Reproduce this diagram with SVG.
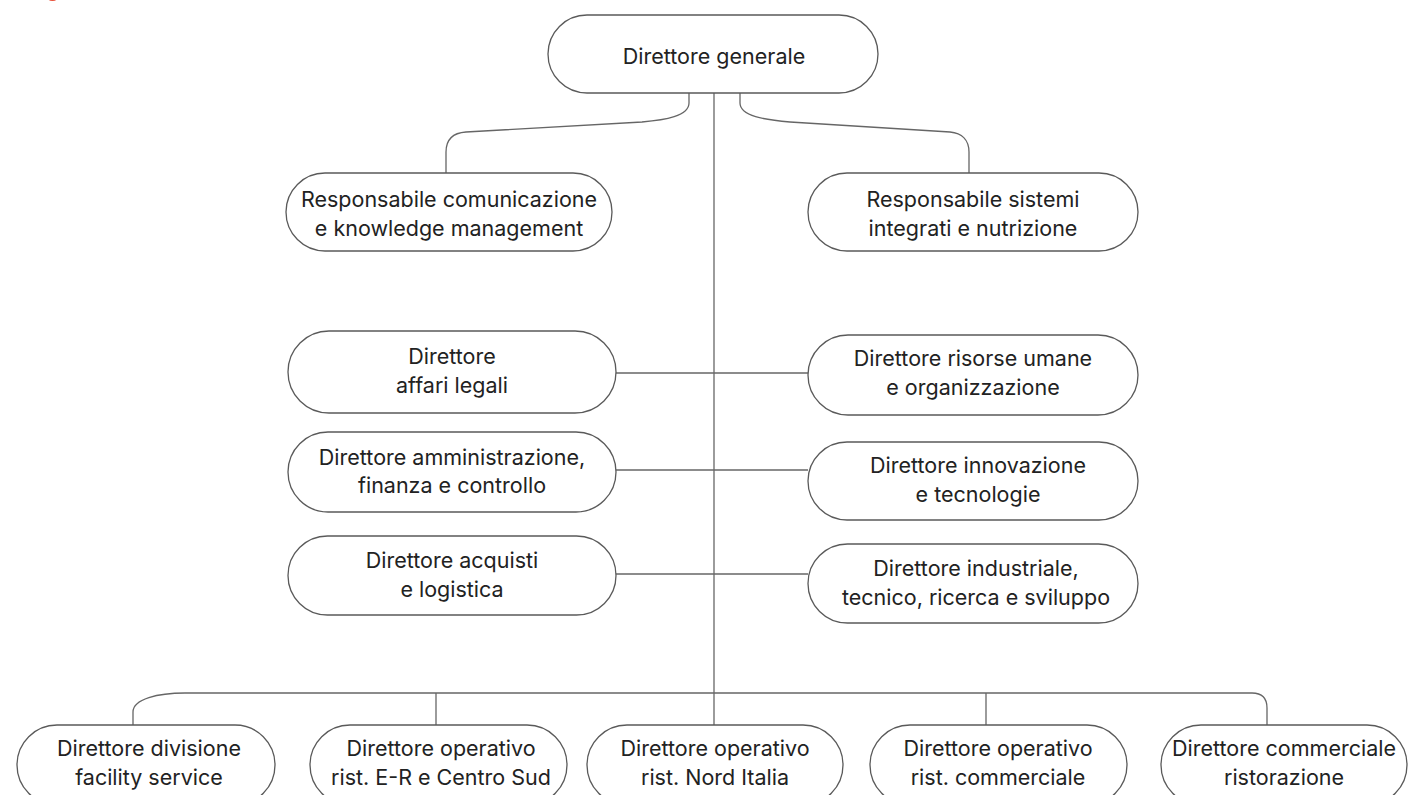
<svg xmlns="http://www.w3.org/2000/svg" width="1409" height="795" viewBox="0 0 1409 795">
<style>
.n{fill:#fff;stroke:#5a5a5a;stroke-width:1.3}
.c{fill:none;stroke:#666;stroke-width:1.3}
text{font-family:Inter,"Liberation Sans",sans-serif;font-size:21.5px;fill:#222;text-anchor:middle}
</style>
<rect width="1409" height="795" fill="#fff"/>
<ellipse cx="52.5" cy="-1" rx="4" ry="2" fill="#e8503a"/>
<g id="connectors">
<path class="c" d="M714,93 V725"/>
<path class="c" d="M689,93 V103 C689,116 665,120 642,122 L466,132 C452,133 446,140 446,152 V173"/>
<path class="c" d="M740,93 V103 C740,116 765,120 790,122 L950,132 C962,133 969,140 969,152 V173"/>
<path class="c" d="M616,373 H808"/>
<path class="c" d="M616,470 H808"/>
<path class="c" d="M616,574 H808"/>
<path class="c" d="M133,725 V712 C133,699 158,693 185,693 H1252 Q1267,693 1267,708 V725"/>
<path class="c" d="M436,693 V725"/>
<path class="c" d="M986,693 V725"/>
</g>
<g id="n-dg"><rect class="n" x="548" y="15" width="330" height="78" rx="39"/><text x="714" y="64">Direttore generale</text></g>
<g id="n-comm"><rect class="n" x="286" y="173" width="326" height="78" rx="39"/><text x="449" y="207">Responsabile comunicazione</text><text x="449" y="236">e knowledge management</text></g>
<g id="n-sist"><rect class="n" x="808" y="173" width="330" height="78" rx="39"/><text x="973" y="207">Responsabile sistemi</text><text x="973" y="236">integrati e nutrizione</text></g>
<g id="n-legali"><rect class="n" x="288" y="331" width="328" height="82" rx="41"/><text x="452" y="364">Direttore</text><text x="452" y="393">affari legali</text></g>
<g id="n-risorse"><rect class="n" x="808" y="335" width="330" height="80" rx="40"/><text x="973" y="366">Direttore risorse umane</text><text x="973" y="395">e organizzazione</text></g>
<g id="n-amm"><rect class="n" x="288" y="432" width="328" height="80" rx="40"/><text x="452" y="465">Direttore amministrazione,</text><text x="452" y="493">finanza e controllo</text></g>
<g id="n-innov"><rect class="n" x="808" y="442" width="330" height="78" rx="39"/><text x="978" y="473">Direttore innovazione</text><text x="978" y="502">e tecnologie</text></g>
<g id="n-acq"><rect class="n" x="288" y="536" width="328" height="79" rx="39.5"/><text x="452" y="568">Direttore acquisti</text><text x="452" y="597">e logistica</text></g>
<g id="n-ind"><rect class="n" x="808" y="544" width="330" height="79" rx="39.5"/><text x="976" y="576">Direttore industriale,</text><text x="976" y="605">tecnico, ricerca e sviluppo</text></g>
<g id="n-facility"><rect class="n" x="17" y="725" width="258" height="80" rx="40"/><text x="149" y="756">Direttore divisione</text><text x="149" y="785">facility service</text></g>
<g id="n-er"><rect class="n" x="310" y="725" width="257" height="80" rx="40"/><text x="441" y="756">Direttore operativo</text><text x="441" y="785">rist. E-R e Centro Sud</text></g>
<g id="n-nord"><rect class="n" x="587" y="725" width="256" height="80" rx="40"/><text x="715" y="756">Direttore operativo</text><text x="715" y="785">rist. Nord Italia</text></g>
<g id="n-opcomm"><rect class="n" x="870" y="725" width="257" height="80" rx="40"/><text x="998" y="756">Direttore operativo</text><text x="998" y="785">rist. commerciale</text></g>
<g id="n-commrist"><rect class="n" x="1161" y="725" width="246" height="80" rx="40"/><text x="1284" y="756">Direttore commerciale</text><text x="1284" y="785">ristorazione</text></g>
</svg>
